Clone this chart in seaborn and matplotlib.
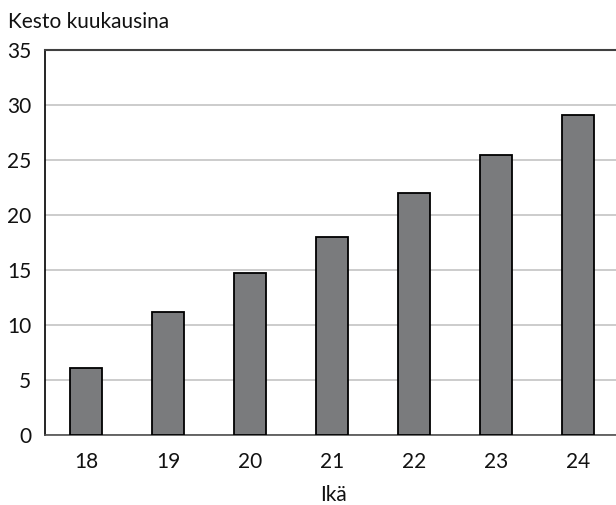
import matplotlib
matplotlib.use("Agg")
import matplotlib.pyplot as plt
import pandas as pd
import seaborn as sns

AGES = ["18", "19", "20", "21", "22", "23", "24"]
MONTHS = [6.1, 11.2, 14.7, 18.0, 22.0, 25.5, 29.1]
Y_TICKS = [0, 5, 10, 15, 20, 25, 30, 35]

df = pd.DataFrame({"age": AGES, "months": MONTHS})

sns.set_theme(style="white")
plt.rcParams["font.family"] = ["Lato", "DejaVu Sans"]

fig = plt.figure(figsize=(6.16, 5.05), dpi=100)
ax = fig.add_axes([45 / 616, 70 / 505, 574 / 616, 385 / 505])

sns.barplot(data=df, x="age", y="months", color="#7a7b7d", saturation=1,
            width=0.4, edgecolor="black", linewidth=1.3, ax=ax, zorder=3)

ax.set_ylim(0, 35)
ax.set_xlim(-0.5, 6.5)
ax.set_yticks(Y_TICKS)
ax.yaxis.grid(True, color="#c4c4c4", linewidth=1.2, zorder=0)
ax.set_axisbelow(True)

ax.tick_params(axis="y", length=6, color="#999999", width=1, labelsize=15, pad=4, labelcolor="#111111")
ax.tick_params(axis="x", which="major", length=0, labelsize=15, pad=12, labelcolor="#111111")
ax.set_xticks([i - 0.5 for i in range(len(AGES) + 1)], minor=True)
ax.tick_params(axis="x", which="minor", length=6, color="#999999", width=1, direction="out")

ax.spines["left"].set_color("black")
ax.spines["left"].set_linewidth(1.2)
ax.spines["top"].set_color("#404040")
ax.spines["top"].set_linewidth(1.5)
ax.spines["bottom"].set_color("#505050")
ax.spines["bottom"].set_linewidth(1.2)
ax.spines["right"].set_visible(False)

ax.set_xlabel("Ikä", fontsize=15, color="#111111")
ax.xaxis.set_label_coords((333 - 45) / 574, -(495 - 435) / 385)
ax.xaxis.label.set_va("center")
ax.set_ylabel("")
fig.text(8 / 616, 1 - 22 / 505, "Kesto kuukausina", fontsize=15, va="center", ha="left", color="#111111")

fig.savefig("out.png", dpi=100)
